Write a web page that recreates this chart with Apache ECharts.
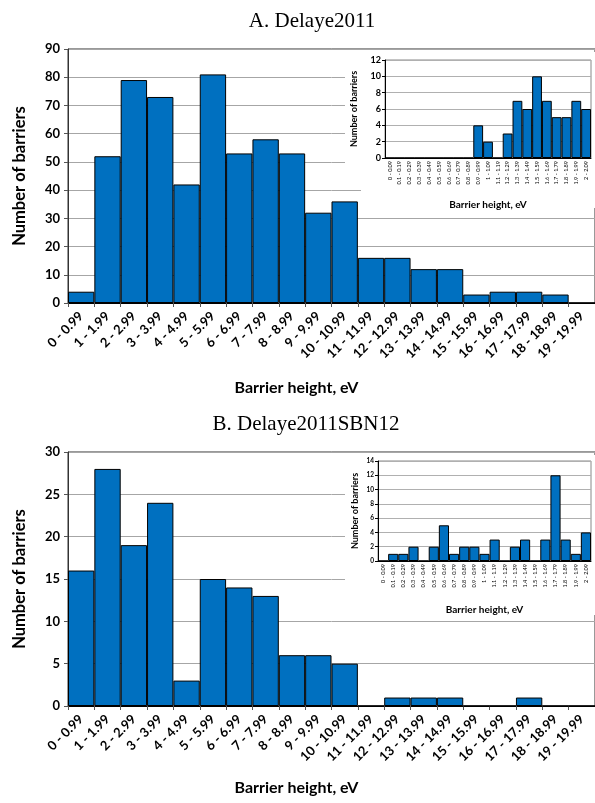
<!DOCTYPE html>
<html>
<head>
<meta charset="utf-8">
<script src="https://cdn.jsdelivr.net/npm/echarts@6/dist/echarts.min.js"></script>
<style>
  html, body { margin: 0; padding: 0; background: #fff; }
  #mychart { width: 595px; height: 803px; }
</style>
</head>
<body>
<div id="mychart"></div>
<script>
// categories
var mainCats = ['0 - 0.99', '1 - 1.99', '2 - 2.99', '3 - 3.99', '4 - 4.99', '5 - 5.99', '6 - 6.99',
  '7 - 7.99', '8 - 8.99', '9 - 9.99', '10 - 10.99', '11 - 11.99', '12 - 12.99', '13 - 13.99',
  '14 - 14.99', '15 - 15.99', '16 - 16.99', '17 - 17.99', '18 - 18.99', '19 - 19.99'];
var insetCats = ['0 - 0.09', '0.1 - 0.19', '0.2 - 0.29', '0.3 - 0.39', '0.4 - 0.49', '0.5 - 0.59',
  '0.6 - 0.69', '0.7 - 0.79', '0.8 - 0.89', '0.9 - 0.99', '1 - 1.09', '1.1 - 1.19', '1.2 - 1.29',
  '1.3 - 1.39', '1.4 - 1.49', '1.5 - 1.59', '1.6 - 1.69', '1.7 - 1.79', '1.8 - 1.89', '1.9 - 1.99',
  '2 - 2.09'];

// counts
var delayeMain = [4, 52, 79, 73, 42, 81, 53, 58, 53, 32, 36, 16, 16, 12, 12, 3, 4, 4, 3, 0];
var delayeInset = [0, 0, 0, 0, 0, 0, 0, 0, 0, 4, 2, 0, 3, 7, 6, 10, 7, 5, 5, 7, 6];
var sbnMain = [16, 28, 19, 24, 3, 15, 14, 13, 6, 6, 5, 0, 1, 1, 1, 0, 0, 1, 0, 0];
var sbnInset = [0, 1, 1, 2, 0, 2, 5, 1, 2, 2, 1, 3, 0, 2, 3, 0, 3, 12, 3, 1, 4];

var FONT = 'Lato';
var BLUE = '#0070C0';

var myChart = echarts.init(document.getElementById('mychart'));

function mainX(idx, gap) {
  return {
    gridIndex: idx, type: 'category', data: mainCats,
    name: 'Barrier height, eV', nameLocation: 'middle', nameGap: gap,
    nameTextStyle: { fontFamily: FONT, fontWeight: 'bold', fontSize: 16, color: '#000', padding: [0, 70, 0, 0] },
    axisLine: { lineStyle: { color: '#000', width: 1 } },
    axisTick: { show: true, length: 4, lineStyle: { color: '#555' } },
    axisLabel: { interval: 0, rotate: 45, margin: 11, fontFamily: FONT, fontWeight: 'bold', fontSize: 13, color: '#000' },
    splitLine: { show: false }
  };
}
function mainY(idx, max, step) {
  return {
    gridIndex: idx, type: 'value', min: 0, max: max, interval: step,
    name: 'Number of barriers', nameLocation: 'middle', nameGap: 40,
    nameTextStyle: { fontFamily: FONT, fontWeight: 'bold', fontSize: 16.5, color: '#000' },
    axisLine: { show: true, lineStyle: { color: '#333' } },
    axisTick: { show: true, length: 4, lineStyle: { color: '#555' } },
    axisLabel: { margin: 8, fontFamily: FONT, fontWeight: 'bold', fontSize: 13, color: '#000' },
    splitLine: { show: true, lineStyle: { color: '#a6a6a6', width: 1 } }
  };
}
function insetX(idx, gap) {
  return {
    gridIndex: idx, type: 'category', data: insetCats, z: 12,
    name: 'Barrier height, eV', nameLocation: 'middle', nameGap: gap,
    nameTextStyle: { fontFamily: FONT, fontWeight: 'bold', fontSize: 10, color: '#000' },
    axisLine: { lineStyle: { color: '#000', width: 1 } },
    axisTick: { show: false },
    axisLabel: { interval: 0, rotate: 90, margin: 3, fontFamily: FONT, fontSize: 5.5, color: '#000' },
    splitLine: { show: false }
  };
}
function insetY(idx, max, gap, fs) {
  return {
    gridIndex: idx, type: 'value', min: 0, max: max, interval: 2, z: 12,
    name: 'Number of barriers', nameLocation: 'middle', nameGap: gap,
    nameTextStyle: { fontFamily: FONT, fontWeight: 'bold', fontSize: 9, color: '#000' },
    axisLine: { show: true, lineStyle: { color: '#000' } },
    axisTick: { show: true, length: 3, lineStyle: { color: '#000' } },
    axisLabel: { margin: 4, fontFamily: FONT, fontWeight: 'bold', fontSize: fs, color: '#000' },
    splitLine: { show: true, lineStyle: { color: '#b0b0b0', width: 1 } }
  };
}
function barSeries(idx, data, z) {
  return {
    type: 'bar', xAxisIndex: idx, yAxisIndex: idx, data: data, z: z,
    barWidth: '100%', barCategoryGap: 0,
    itemStyle: { color: BLUE, borderColor: '#000', borderWidth: 1 },
    animation: false
  };
}

var option = {
  backgroundColor: '#fff',
  animation: false,
  title: [
    { text: 'A. Delaye2011', left: 307, top: 6, textAlign: 'center',
      textStyle: { fontFamily: 'Liberation Serif', fontWeight: 'normal', fontSize: 21, color: '#000' } },
    { text: 'B. Delaye2011SBN12', left: 301, top: 409, textAlign: 'center',
      textStyle: { fontFamily: 'Liberation Serif', fontWeight: 'normal', fontSize: 21, color: '#000' } }
  ],
  graphic: [
    { type: 'rect', z: 10, shape: { x: 345, y: 52, width: 250, height: 133 }, style: { fill: '#fff' } },
    { type: 'rect', z: 10, shape: { x: 361, y: 180, width: 234, height: 28 }, style: { fill: '#fff' } },
    { type: 'rect', z: 10, shape: { x: 345, y: 455, width: 250, height: 160 }, style: { fill: '#fff' } }
  ],
  grid: [
    { left: 68, top: 49, width: 531, height: 254, show: true, borderColor: '#333', borderWidth: 1 },
    { left: 68, top: 452, width: 531, height: 254, show: true, borderColor: '#333', borderWidth: 1 },
    { left: 385, top: 60, width: 206, height: 98, z: 11, show: true, backgroundColor: '#fff', borderColor: '#888', borderWidth: 1 },
    { left: 378, top: 461, width: 213, height: 100, z: 11, show: true, backgroundColor: '#fff', borderColor: '#888', borderWidth: 1 }
  ],
  xAxis: [mainX(0, 77), mainX(1, 74), insetX(2, 42), insetX(3, 44)],
  yAxis: [mainY(0, 90, 10), mainY(1, 30, 5), insetY(2, 12, 26, 9), insetY(3, 14, 18, 6.5)],
  series: [
    barSeries(0, delayeMain, 2),
    barSeries(1, sbnMain, 2),
    barSeries(2, delayeInset, 13),
    barSeries(3, sbnInset, 13)
  ]
};

myChart.setOption(option, true);
</script>
</body>
</html>
